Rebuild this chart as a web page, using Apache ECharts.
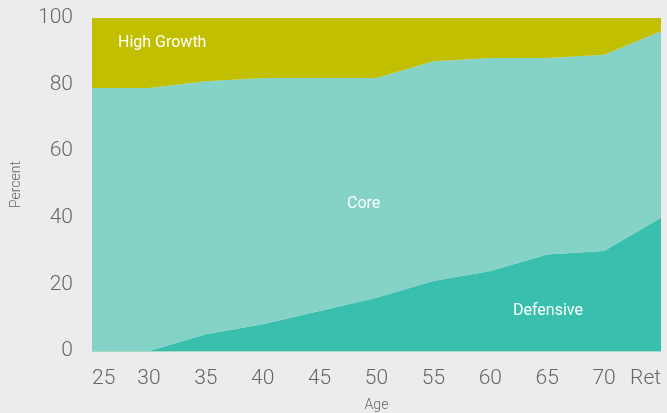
<!DOCTYPE html>
<html>
<head>
<meta charset="utf-8">
<script src="https://cdn.jsdelivr.net/npm/echarts@6/dist/echarts.min.js"></script>
<style>
  html, body { margin: 0; padding: 0; background: #ececee; }
  #chart { width: 667px; height: 413px; }
</style>
</head>
<body>
<div id="chart"></div>
<script>
const ages = ['25', '30', '35', '40', '45', '50', '55', '60', '65', '70', 'Ret']
// allocation percentages per age, stacked bottom to top
const defensive = [0, 0, 5, 8, 12, 16, 21, 24, 29, 30, 40]
const core = [79, 79, 76, 74, 70, 66, 66, 64, 59, 59, 56]
const highGrowth = [21, 21, 19, 18, 18, 18, 13, 12, 12, 11, 4]

const COLORS = {
  defensive: '#38bfad',
  core: '#84d3c6',
  growth: '#c2bf00'
}
const FONT = 'Roboto, "Open Sans", sans-serif'

const chart = echarts.init(document.getElementById('chart'))

function areaSeries(name, data, color) {
  return {
    type: 'line', name, data, stack: 'total',
    symbol: 'none', smooth: false,
    lineStyle: { width: 0 },
    areaStyle: { color, opacity: 1 },
    itemStyle: { color },
    silent: true
  }
}

function areaLabel(text, x, y) {
  return {
    type: 'text', x, y, z: 100,
    style: { text, fill: '#fff', font: '16px ' + FONT, verticalAlign: 'middle' }
  }
}

chart.setOption({
  backgroundColor: '#ececee',
  animation: false,
  grid: { left: 92, right: 6, top: 18, bottom: 62, outerBoundsMode: 'none' },
  xAxis: {
    type: 'category', data: ages, boundaryGap: false,
    name: 'Age', nameLocation: 'center', nameGap: 47,
    nameTextStyle: { fontFamily: FONT, fontSize: 14, color: '#666', fontWeight: 300 },
    axisLine: { show: true, lineStyle: { color: '#a6dcc4', width: 1 } },
    axisTick: { show: false },
    axisLabel: {
      fontFamily: FONT, fontSize: 21, color: '#666', fontWeight: 300, margin: 17,
      alignMinLabel: 'left', alignMaxLabel: 'right'
    },
    splitLine: { show: false }
  },
  yAxis: {
    type: 'value', min: 0, max: 100, interval: 20,
    name: 'Percent', nameLocation: 'center', nameGap: 69,
    nameTextStyle: { fontFamily: FONT, fontSize: 14, color: '#666', fontWeight: 300 },
    axisLine: { show: false },
    axisTick: { show: false },
    axisLabel: { fontFamily: FONT, fontSize: 21, color: '#666', fontWeight: 300, margin: 19 },
    splitLine: { show: false }
  },
  series: [
    areaSeries('Defensive', defensive, COLORS.defensive),
    areaSeries('Core', core, COLORS.core),
    areaSeries('High Growth', highGrowth, COLORS.growth)
  ],
  graphic: [
    areaLabel('High Growth', 118, 43),
    areaLabel('Core', 347, 204),
    areaLabel('Defensive', 513, 311)
  ]
})
</script>
</body>
</html>
